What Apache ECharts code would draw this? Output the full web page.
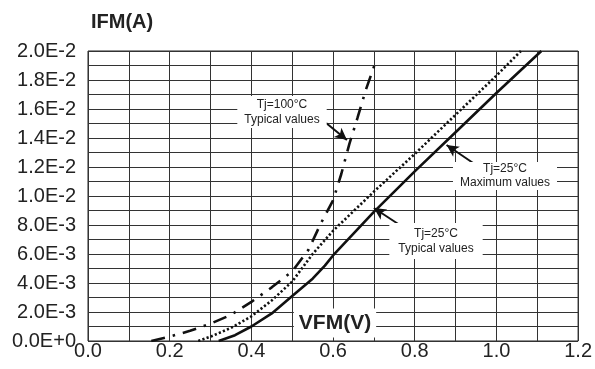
<!DOCTYPE html>
<html>
<head>
<meta charset="utf-8">
<script src="https://cdn.jsdelivr.net/npm/echarts@6/dist/echarts.min.js"></script>
<style>
  html, body { margin: 0; padding: 0; background: #fff; }
  #chart { width: 595px; height: 369px; }
</style>
</head>
<body>
<div id="chart"></div>
<script>
// forward current vs forward voltage, [VFM (V), IFM (A)]
var hotTypical = [
  [0.155, 0], [0.2, 0.0003], [0.25, 0.0007], [0.3, 0.0012], [0.35, 0.0018],
  [0.4, 0.0027], [0.45, 0.0037], [0.5, 0.0048], [0.54, 0.0063], [0.57, 0.0081],
  [0.6, 0.0097], [0.62, 0.0115], [0.64, 0.0136], [0.66, 0.0154], [0.68, 0.0173],
  [0.705, 0.0193]
]
var coldMaximum = [
  [0.27, 0], [0.3, 0.0003], [0.35, 0.0009], [0.4, 0.0017], [0.45, 0.0028],
  [0.5, 0.0041], [0.55, 0.006], [0.6, 0.0076], [0.7, 0.0103], [0.8, 0.0129],
  [0.9, 0.0156], [1.0, 0.0183], [1.06, 0.02]
]
var coldTypical = [
  [0.32, 0], [0.36, 0.0004], [0.4, 0.001], [0.45, 0.0019], [0.5, 0.0031],
  [0.55, 0.0043], [0.58, 0.0052], [0.6, 0.0059], [0.7, 0.0089], [0.8, 0.0117],
  [0.9, 0.0144], [1.0, 0.0171], [1.11, 0.02]
]
var xTicks = ['0.0', '0.2', '0.4', '0.6', '0.8', '1.0', '1.2']
var yTicks = ['0.0E+0', '2.0E-3', '4.0E-3', '6.0E-3', '8.0E-3', '1.0E-2',
  '1.2E-2', '1.4E-2', '1.6E-2', '1.8E-2', '2.0E-2']

var font = 'Liberation Sans, Arial, sans-serif'
var chart = echarts.init(document.getElementById('chart'))

function arrow(from, to) {
  return [{ coord: from }, { coord: to }]
}

chart.setOption({
  animation: false,
  title: {
    text: 'IFM(A)',
    left: 86,
    top: 7,
    textStyle: { fontFamily: font, fontSize: 20, fontWeight: 'bold', color: '#222' }
  },
  grid: {
    left: 88,
    right: 15,
    top: 51,
    bottom: 28,
    show: true,
    borderColor: '#222',
    borderWidth: 1
  },
  xAxis: {
    type: 'value',
    min: 0,
    max: 1.2,
    interval: 0.1,
    axisLine: { show: false },
    axisTick: { show: false },
    splitLine: { lineStyle: { color: '#333', width: 1 } },
    axisLabel: {
      margin: 0,
      fontFamily: font,
      fontSize: 20,
      color: '#222',
      formatter: function(v) {
        var k = Math.round(v * 10)
        return k % 2 === 0 ? xTicks[k / 2] : ''
      }
    }
  },
  yAxis: {
    type: 'value',
    min: 0,
    max: 0.02,
    interval: 0.001,
    axisLine: { show: false },
    axisTick: { show: false },
    splitLine: { lineStyle: { color: '#333', width: 1 } },
    axisLabel: {
      margin: 12,
      fontFamily: font,
      fontSize: 20,
      color: '#222',
      formatter: function(v) {
        var k = Math.round(v / 0.001)
        return k % 2 === 0 ? yTicks[k / 2] : ''
      }
    }
  },
  series: [
    {
      name: 'Tj=100°C Typical values',
      type: 'line',
      data: hotTypical,
      symbol: 'none',
      lineStyle: { color: '#111', width: 2.6, type: [14, 8, 2.5, 8], cap: 'butt' },
      z: 3
    },
    {
      name: 'Tj=25°C Maximum values',
      type: 'line',
      data: coldMaximum,
      symbol: 'none',
      lineStyle: { color: '#111', width: 2.6, type: [2.2, 2.2], cap: 'butt' },
      z: 3
    },
    {
      name: 'Tj=25°C Typical values',
      type: 'line',
      data: coldTypical,
      symbol: 'none',
      lineStyle: { color: '#111', width: 2.6 },
      z: 3,
      markLine: {
        silent: true,
        symbol: ['none', 'arrow'],
        symbolSize: [9, 12],
        label: { show: false },
        lineStyle: { color: '#111', width: 2, type: 'solid' },
        data: [
          arrow([0.583, 0.01503], [0.634, 0.01386]),
          arrow([0.961, 0.01193], [0.878, 0.01352]),
          arrow([0.793, 0.00745], [0.7, 0.00917])
        ]
      }
    }
  ],
  graphic: [
    {
      type: 'text', x: 282, y: 112, z: 100,
      style: {
        text: 'Tj=100°C\nTypical values', font: '12px ' + font, fill: '#222',
        align: 'center', verticalAlign: 'middle', lineHeight: 15,
        backgroundColor: '#fff', padding: [1, 7]
      }
    },
    {
      type: 'text', x: 505, y: 176, z: 100,
      style: {
        text: 'Tj=25°C\nMaximum values', font: '12px ' + font, fill: '#222',
        align: 'center', verticalAlign: 'middle', lineHeight: 14,
        backgroundColor: '#fff', padding: [0, 7]
      }
    },
    {
      type: 'text', x: 436, y: 241, z: 100,
      style: {
        text: 'Tj=25°C\nTypical values', font: '12px ' + font, fill: '#222',
        align: 'center', verticalAlign: 'middle', lineHeight: 15,
        backgroundColor: '#fff', padding: [3, 9]
      }
    },
    {
      type: 'text', x: 335, y: 323, z: 100,
      style: {
        text: 'VFM(V)', font: 'bold 21px ' + font, fill: '#222',
        align: 'center', verticalAlign: 'middle',
        backgroundColor: '#fff', padding: [4, 5]
      }
    }
  ]
})
</script>
</body>
</html>
